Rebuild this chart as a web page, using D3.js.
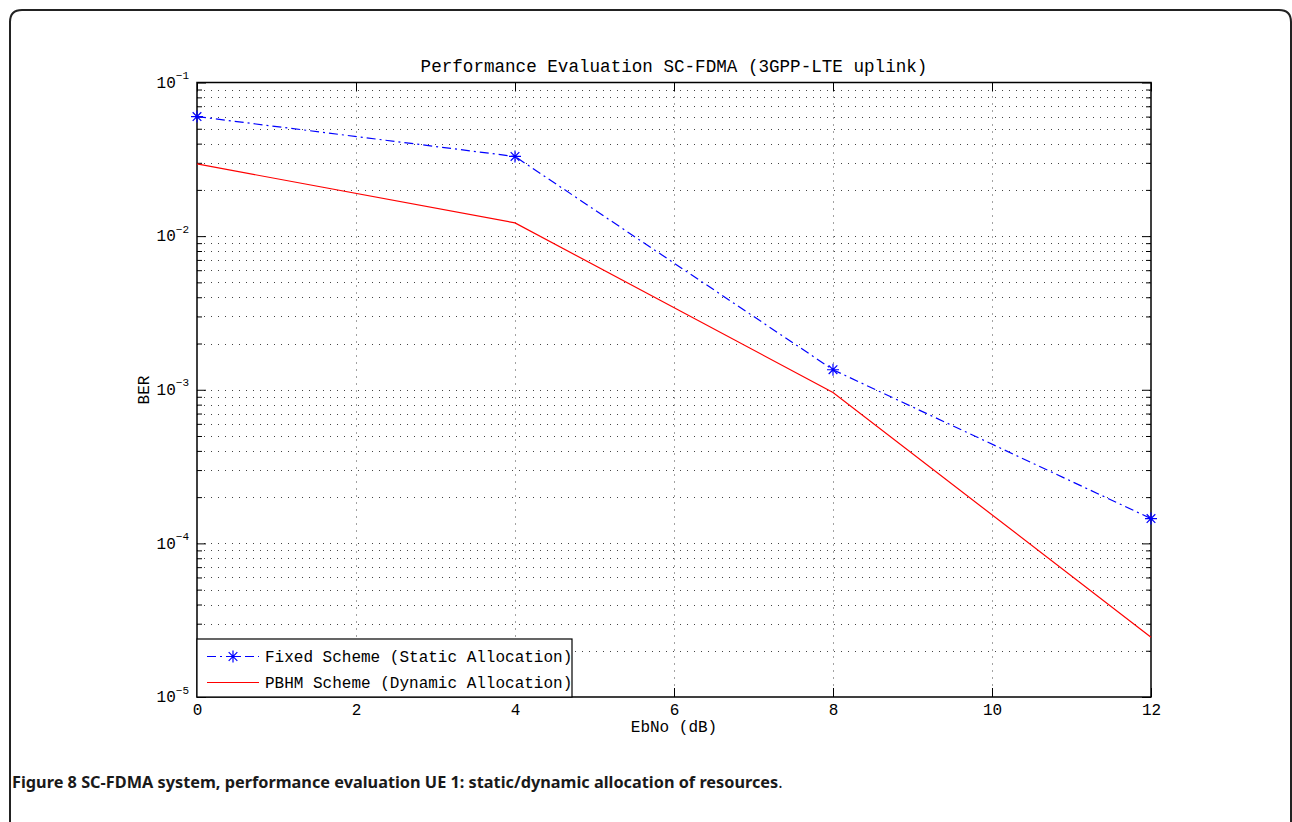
<!DOCTYPE html>
<html lang="en">
<head>
  <meta charset="UTF-8">
  <title>Performance Evaluation SC-FDMA</title>
  <style>
    body { margin: 0; background: #fff; }
    .mono { font-family: "Liberation Mono", "Courier New", monospace; fill: #000; }
    .caption { font-family: "Noto Sans", "Open Sans", sans-serif; font-size: 16.3px; fill: #1a1a1a; }
  </style>
  <script src="https://d3js.org/d3.v7.min.js"></script>
</head>
<body>
  <div id="chart"></div>
  <script>
    // values
    const ebno = [0, 4, 8, 12];
    const berFixed = [0.06, 0.033, 0.00135, 0.000145];
    const berPbhm = [0.0295, 0.0122, 0.00096, 0.0000245];
    const xTicks = [0, 2, 4, 6, 8, 10, 12];
    const yDecades = [-5, -4, -3, -2, -1];
    const seriesNames = ["Fixed Scheme (Static Allocation)", "PBHM Scheme (Dynamic Allocation)"];

    const W = 1292, H = 822;
    const pLeft = 197, pRight = 1151, pTop = 82.5, pBottom = 697;

    const svg = d3.select("#chart")
      .append("svg")
      .attr("width", W)
      .attr("height", H);

    // figure frame with rounded top corners
    svg.append("path")
      .attr("d", `M10,${H} L10,22 Q10,10 22,10 L1279,10 Q1291,10 1291,22 L1291,${H}`)
      .attr("fill", "none")
      .attr("stroke", "#222")
      .attr("stroke-width", 2);

    const x = d3.scaleLinear().domain([0, 12]).range([pLeft, pRight]);
    const y = d3.scaleLog().domain([1e-5, 1e-1]).range([pBottom, pTop]);

    const majorY = yDecades.map(e => Math.pow(10, e));
    const minorY = [];
    yDecades.slice(0, -1).forEach(e => {
      for (let m = 2; m <= 9; m++) minorY.push(m * Math.pow(10, e));
    });

    // grid
    const grid = svg.append("g")
      .attr("stroke", "#444")
      .attr("stroke-width", 1)
      .attr("stroke-dasharray", "1,6");
    grid.selectAll(".hg")
      .data(majorY.slice(1, -1).concat(minorY))
      .enter().append("line")
      .attr("x1", pLeft).attr("x2", pRight)
      .attr("y1", d => Math.round(y(d)) + 0.5)
      .attr("y2", d => Math.round(y(d)) + 0.5);
    grid.selectAll(".vg")
      .data(xTicks.slice(1, -1))
      .enter().append("line")
      .attr("y1", pTop).attr("y2", pBottom)
      .attr("x1", d => Math.round(x(d)) + 0.5)
      .attr("x2", d => Math.round(x(d)) + 0.5);

    // axes
    function styleAxis(g) {
      g.select(".domain").remove();
      g.selectAll(".tick line").attr("stroke", "#000");
    }

    svg.append("g")
      .attr("transform", `translate(${pLeft},0)`)
      .call(d3.axisLeft(y).tickValues(minorY).tickSize(-5).tickFormat(""))
      .call(styleAxis);
    svg.append("g")
      .attr("transform", `translate(${pRight},0)`)
      .call(d3.axisRight(y).tickValues(minorY).tickSize(-5).tickFormat(""))
      .call(styleAxis);
    svg.append("g")
      .attr("transform", `translate(${pRight},0)`)
      .call(d3.axisRight(y).tickValues(majorY).tickSize(-9).tickFormat(""))
      .call(styleAxis);

    const yAxis = svg.append("g")
      .attr("transform", `translate(${pLeft},0)`)
      .call(d3.axisLeft(y).tickValues(majorY).tickSize(-9).tickPadding(6).tickFormat(""))
      .call(styleAxis);
    yAxis.selectAll(".tick text")
      .attr("class", "mono")
      .attr("font-size", 16)
      .attr("x", -8)
      .attr("dy", "0.3em")
      .attr("text-anchor", "end")
      .each(function(d) {
        const t = d3.select(this);
        t.append("tspan").text("10");
        t.append("tspan")
          .attr("font-size", 11)
          .attr("dy", "-0.8em")
          .text("\u2212" + Math.round(-Math.log10(d)));
      });

    svg.append("g")
      .attr("transform", `translate(0,${pBottom})`)
      .call(d3.axisBottom(x).tickValues(xTicks).tickSize(-9).tickPadding(7))
      .call(styleAxis)
      .selectAll(".tick text")
      .attr("class", "mono")
      .attr("font-size", 16);
    svg.append("g")
      .attr("transform", `translate(0,${pTop})`)
      .call(d3.axisTop(x).tickValues(xTicks).tickSize(-9).tickFormat(""))
      .call(styleAxis);

    // box
    svg.append("rect")
      .attr("x", pLeft).attr("y", pTop)
      .attr("width", pRight - pLeft).attr("height", pBottom - pTop)
      .attr("fill", "none")
      .attr("stroke", "#000")
      .attr("stroke-width", 1.5);

    // series
    const fixedPts = ebno.map((e, i) => [e, berFixed[i]]);
    const pbhmPts = ebno.map((e, i) => [e, berPbhm[i]]);
    const line = d3.line().x(d => x(d[0])).y(d => y(d[1]));

    svg.append("path")
      .datum(pbhmPts)
      .attr("d", line)
      .attr("fill", "none")
      .attr("stroke", "#ff0000")
      .attr("stroke-width", 1.2);

    svg.append("path")
      .datum(fixedPts)
      .attr("d", line)
      .attr("fill", "none")
      .attr("stroke", "#0000ff")
      .attr("stroke-width", 1.2)
      .attr("stroke-dasharray", "9,4,2,4");

    function star(cx, cy, r) {
      const d = r * 0.72;
      return `M${cx - r},${cy}L${cx + r},${cy}M${cx},${cy - r}L${cx},${cy + r}` +
        `M${cx - d},${cy - d}L${cx + d},${cy + d}M${cx - d},${cy + d}L${cx + d},${cy - d}`;
    }

    svg.selectAll(".marker")
      .data(fixedPts)
      .enter().append("path")
      .attr("class", "marker")
      .attr("d", d => star(x(d[0]), y(d[1]), 6))
      .attr("fill", "none")
      .attr("stroke", "#0000ff")
      .attr("stroke-width", 1.2);

    // legend
    const lg = svg.append("g");
    lg.append("rect")
      .attr("x", pLeft).attr("y", 639)
      .attr("width", 375).attr("height", pBottom - 639)
      .attr("fill", "#fff")
      .attr("stroke", "#000")
      .attr("stroke-width", 1.2);
    const rows = [
      { name: seriesNames[0], color: "#0000ff", dash: "9,4,2,4", marker: true, y: 656.5 },
      { name: seriesNames[1], color: "#ff0000", dash: null, marker: false, y: 682.5 }
    ];
    rows.forEach(r => {
      lg.append("line")
        .attr("x1", 207).attr("x2", 259)
        .attr("y1", r.y).attr("y2", r.y)
        .attr("stroke", r.color)
        .attr("stroke-width", 1.2)
        .attr("stroke-dasharray", r.dash);
      if (r.marker) {
        lg.append("path")
          .attr("d", star(233, r.y, 6))
          .attr("stroke", r.color)
          .attr("stroke-width", 1.2);
      }
      lg.append("text")
        .attr("class", "mono")
        .attr("x", 265).attr("y", r.y)
        .attr("dy", "0.35em")
        .attr("font-size", 16)
        .text(r.name);
    });

    // titles
    svg.append("text")
      .attr("class", "mono")
      .attr("x", (pLeft + pRight) / 2).attr("y", 72)
      .attr("text-anchor", "middle")
      .attr("font-size", 17.6)
      .text("Performance Evaluation SC-FDMA (3GPP-LTE uplink)");

    svg.append("text")
      .attr("class", "mono")
      .attr("x", (pLeft + pRight) / 2).attr("y", 732)
      .attr("text-anchor", "middle")
      .attr("font-size", 16)
      .text("EbNo (dB)");

    svg.append("text")
      .attr("class", "mono")
      .attr("transform", "translate(149,390) rotate(-90)")
      .attr("text-anchor", "middle")
      .attr("font-size", 16)
      .text("BER");

    // caption
    const cap = svg.append("text")
      .attr("class", "caption")
      .attr("x", 12).attr("y", 788);
    cap.append("tspan").attr("font-weight", "bold").text("Figure 8");
    cap.append("tspan").attr("font-weight", "bold")
      .text(" SC-FDMA system, performance evaluation UE 1: static/dynamic allocation of resources");
    cap.append("tspan").text(".");
  </script>
</body>
</html>
